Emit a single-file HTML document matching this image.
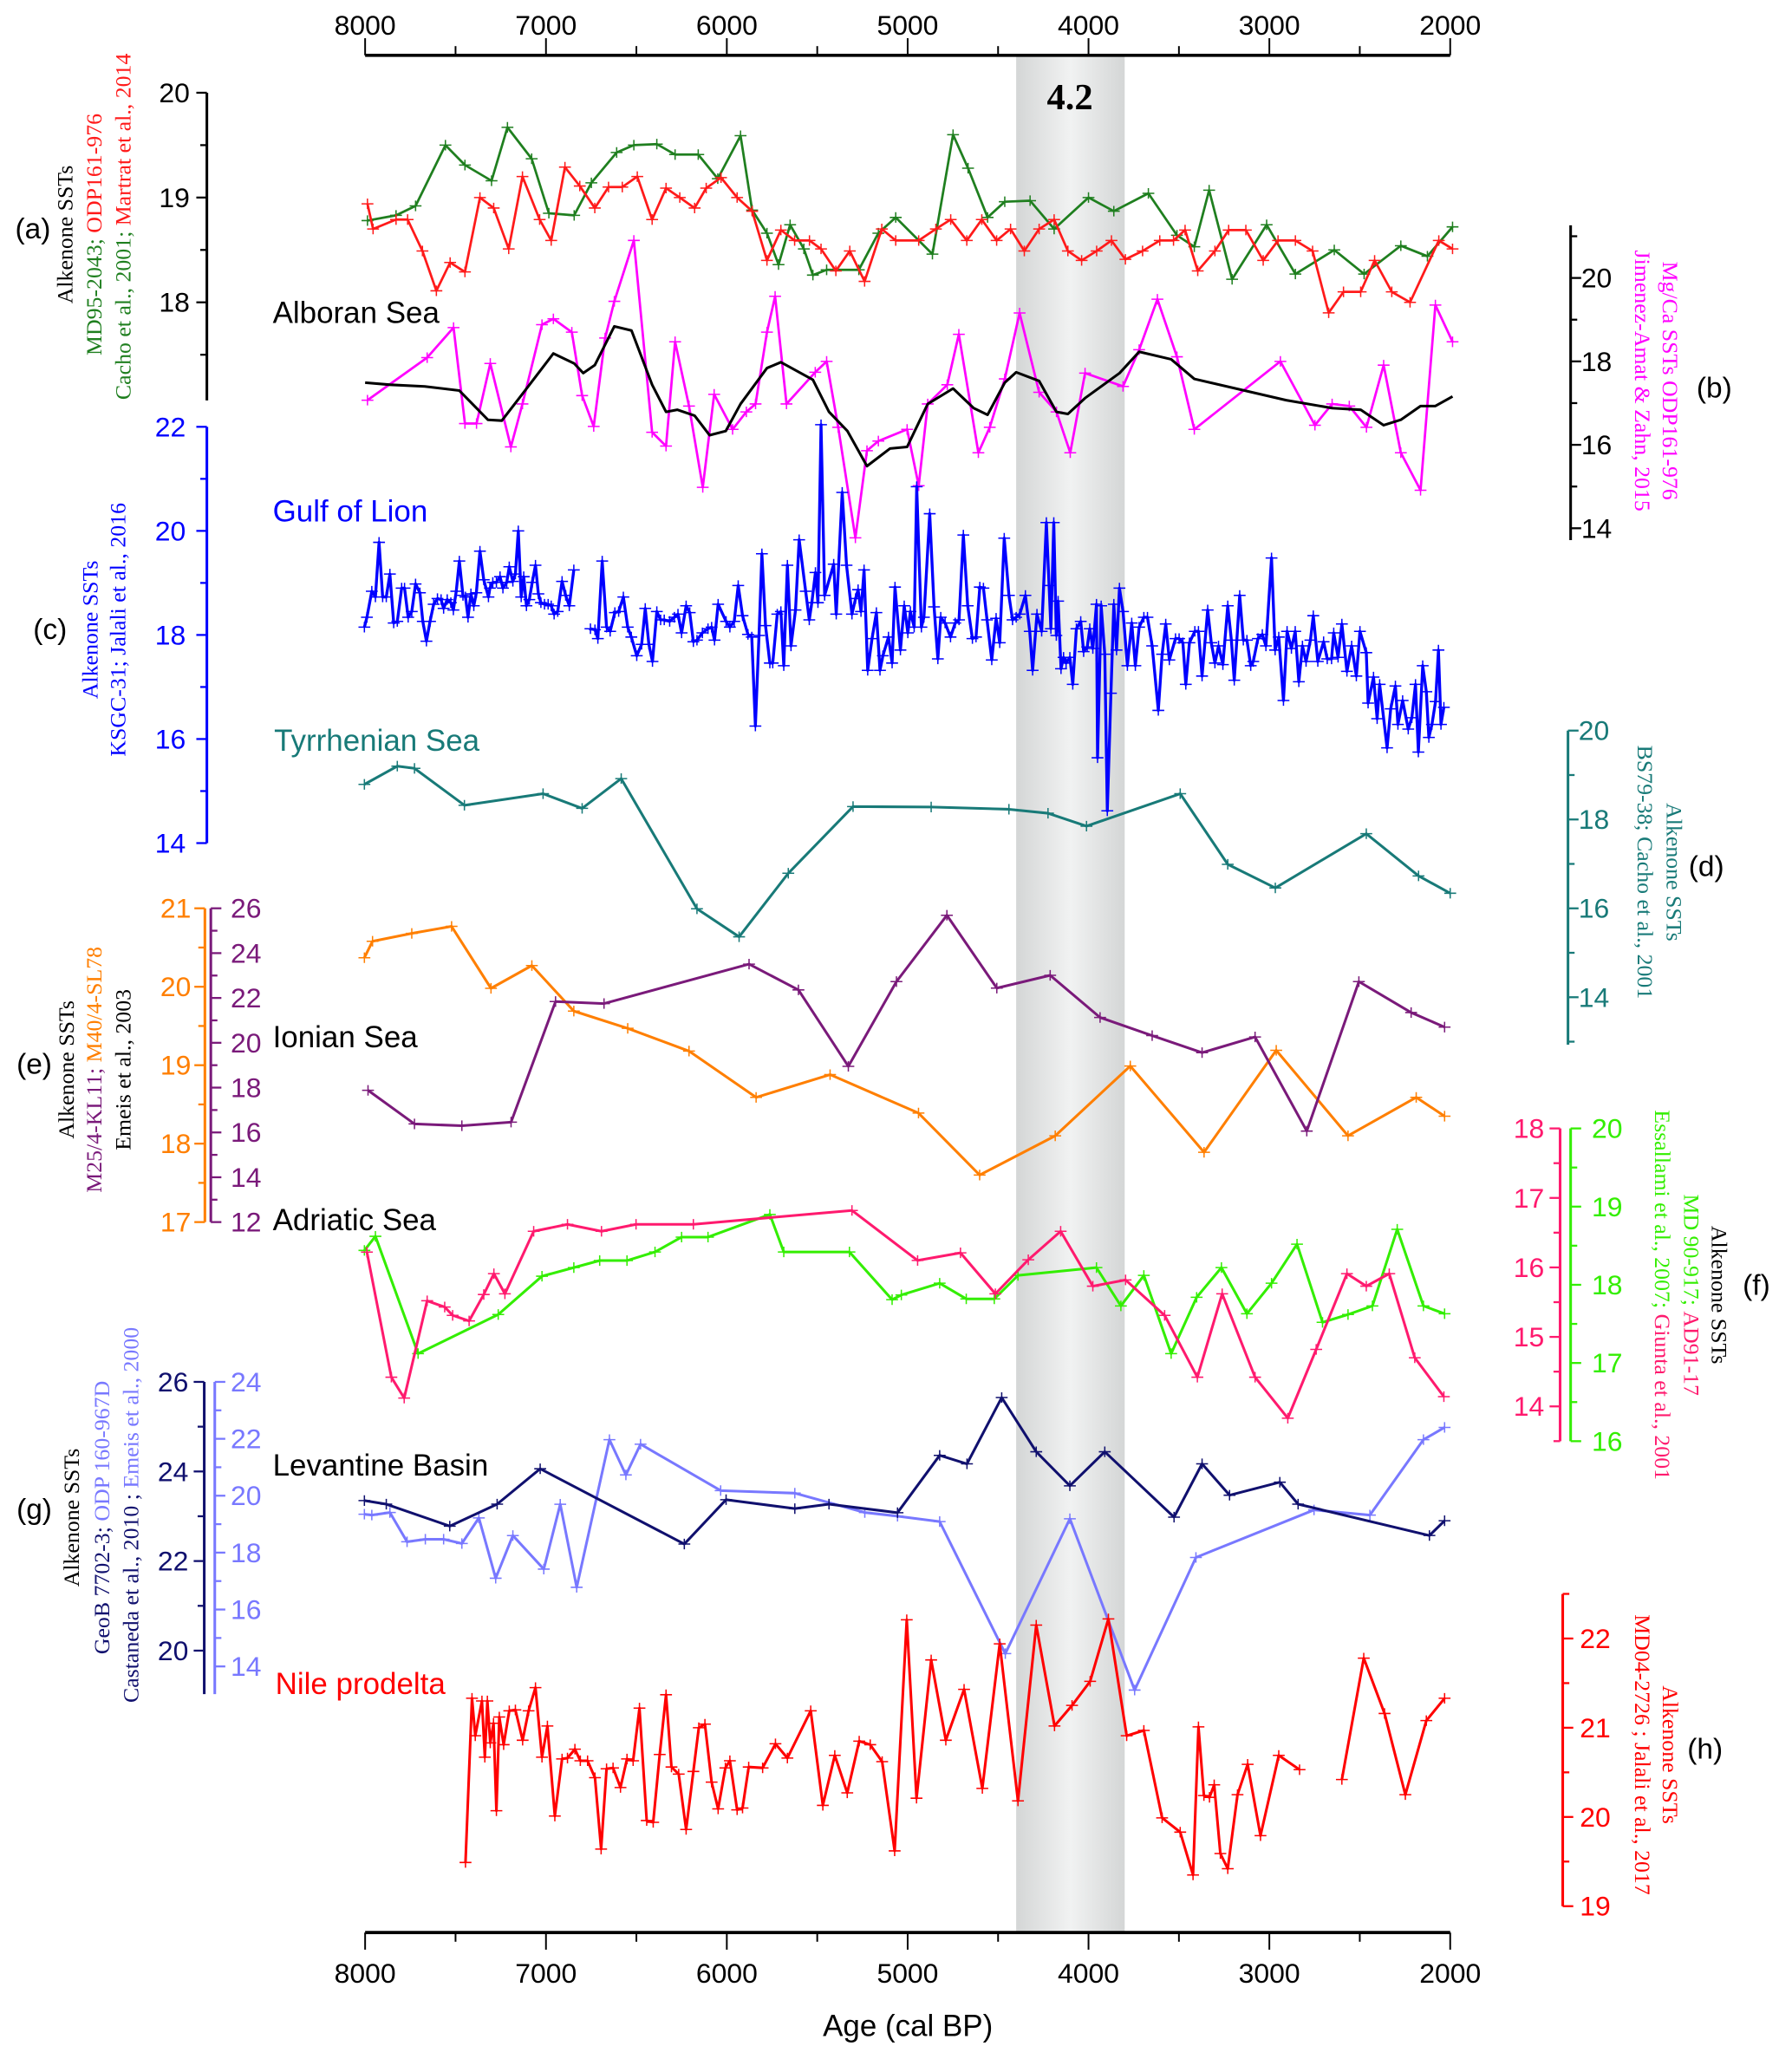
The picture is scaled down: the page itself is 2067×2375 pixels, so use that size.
<!DOCTYPE html>
<html><head><meta charset="utf-8"><title>Mediterranean SST records 8000-2000 cal BP</title>
<style>
html,body{margin:0;padding:0;background:#fff;}
svg{display:block;}
text{font-family:"Liberation Sans",sans-serif;}
.serif{font-family:"Liberation Serif",serif;}
</style></head>
<body>
<svg id="chart" xmlns="http://www.w3.org/2000/svg" width="2067" height="2375" viewBox="0 0 1360 1563" preserveAspectRatio="none">
<defs>
<linearGradient id="bandGrad" x1="0" x2="1" y1="0" y2="0">
<stop offset="0" stop-color="#d4d6d6"/><stop offset="0.5" stop-color="#f1f2f2"/><stop offset="1" stop-color="#d4d6d6"/>
</linearGradient>
</defs>
<g id="bandLayer"></g>
<g id="axisLayer"></g>
<g id="seriesLayer"></g>
<g id="textLayer">
<text x="812" y="83" text-anchor="middle" class="serif" font-weight="bold" font-size="28">4.2</text>
<text x="207" y="245" font-size="23" fill="#000">Alboran Sea</text>
<text x="207" y="396" font-size="23" fill="#0000ff">Gulf of Lion</text>
<text x="208" y="570" font-size="23" fill="#187a78">Tyrrhenian Sea</text>
<text x="207" y="795" font-size="23" fill="#000">Ionian Sea</text>
<text x="207" y="934" font-size="23" fill="#000">Adriatic Sea</text>
<text x="207" y="1120" font-size="23" fill="#000">Levantine Basin</text>
<text x="209" y="1286" font-size="23" fill="#ff0000">Nile prodelta</text>

<text x="25" y="174" font-size="22" text-anchor="middle" dominant-baseline="central">(a)</text>
<text x="1301" y="295" font-size="22" text-anchor="middle" dominant-baseline="central">(b)</text>
<text x="38" y="478" font-size="22" text-anchor="middle" dominant-baseline="central">(c)</text>
<text x="1295" y="658" font-size="22" text-anchor="middle" dominant-baseline="central">(d)</text>
<text x="26" y="808" font-size="22" text-anchor="middle" dominant-baseline="central">(e)</text>
<text x="1333" y="976" font-size="22" text-anchor="middle" dominant-baseline="central">(f)</text>
<text x="26" y="1146" font-size="22" text-anchor="middle" dominant-baseline="central">(g)</text>
<text x="1294" y="1328" font-size="22" text-anchor="middle" dominant-baseline="central">(h)</text>

<g class="serif" font-size="17" text-anchor="middle">
<text class="serif" transform="translate(55,178) rotate(-90)" fill="#000">Alkenone SSTs</text>
<text class="serif" transform="translate(77,178) rotate(-90)"><tspan fill="#1f7f1f">MD95-2043; </tspan><tspan fill="#ff1a1a">ODP161-976</tspan></text>
<text class="serif" transform="translate(99,172) rotate(-90)"><tspan fill="#1f7f1f">Cacho et al., 2001; </tspan><tspan fill="#ff1a1a">Martrat et al., 2014</tspan></text>

<text class="serif" transform="translate(74,478) rotate(-90)" fill="#0000ff">Alkenone SSTs</text>
<text class="serif" transform="translate(95,478) rotate(-90)" fill="#0000ff">KSGC-31; Jalali et al., 2016</text>

<text class="serif" transform="translate(56,812) rotate(-90)" fill="#000">Alkenone SSTs</text>
<text class="serif" transform="translate(77,812) rotate(-90)"><tspan fill="#7a1a7a">M25/4-KL11; </tspan><tspan fill="#ff7f00">M40/4-SL78</tspan></text>
<text class="serif" transform="translate(99,812) rotate(-90)" fill="#000">Emeis et al., 2003</text>

<text class="serif" transform="translate(60,1152) rotate(-90)" fill="#000">Alkenone SSTs</text>
<text class="serif" transform="translate(83,1152) rotate(-90)"><tspan fill="#10106e">GeoB 7702-3; </tspan><tspan fill="#7878ff">ODP 160-967D</tspan></text>
<text class="serif" transform="translate(105,1150) rotate(-90)"><tspan fill="#10106e">Castaneda et al., 2010 ; </tspan><tspan fill="#7878ff">Emeis et al., 2000</tspan></text>

<text class="serif" transform="translate(1262,289) rotate(90)" fill="#ff00ff">Mg/Ca SSTs ODP161-976</text>
<text class="serif" transform="translate(1241,289) rotate(90)" fill="#ff00ff">Jimenez-Amat &amp; Zahn, 2015</text>

<text class="serif" transform="translate(1265,662) rotate(90)" fill="#187a78">Alkenone SSTs</text>
<text class="serif" transform="translate(1243,662) rotate(90)" fill="#187a78">BS79-38; Cacho et al., 2001</text>

<text class="serif" transform="translate(1299,983) rotate(90)" fill="#000">Alkenone SSTs</text>
<text class="serif" transform="translate(1278,983) rotate(90)"><tspan fill="#33ee00">MD 90-917; </tspan><tspan fill="#ff1a6e">AD91-17</tspan></text>
<text class="serif" transform="translate(1256,983) rotate(90)"><tspan fill="#33ee00">Essallami et al., 2007; </tspan><tspan fill="#ff1a6e">Giunta et al., 2001</tspan></text>

<text class="serif" transform="translate(1262,1332) rotate(90)" fill="#ff0000">Alkenone SSTs</text>
<text class="serif" transform="translate(1241,1332) rotate(90)" fill="#ff0000">MD04-2726 ; Jalali et al., 2017</text>
</g>
<text x="689" y="1538" font-size="23" text-anchor="middle" dominant-baseline="central">Age (cal BP)</text>
</g>
</svg>
<script>
// ---------- DATA (age cal BP, SST °C) ----------
const ageTicks = [8000,7000,6000,5000,4000,3000,2000];
const eventBand = [4400,3800];

const alboranGreen = [[7987,18.78],[7829,18.83],[7721,18.92],[7556,19.50],[7448,19.31],[7301,19.16],[7213,19.67],[7079,19.37],[6984,18.85],[6844,18.83],[6749,19.14],[6609,19.43],[6514,19.50],[6387,19.51],[6286,19.41],[6158,19.41],[6050,19.18],[5924,19.59],[5860,18.88],[5778,18.66],[5714,18.36],[5650,18.74],[5574,18.51],[5524,18.26],[5448,18.31],[5270,18.31],[5162,18.66],[5066,18.81],[4863,18.46],[4749,19.60],[4666,19.28],[4558,18.81],[4463,18.96],[4323,18.97],[4190,18.70],[4000,19.00],[3860,18.87],[3669,19.04],[3511,18.64],[3415,18.53],[3333,19.07],[3206,18.22],[3015,18.74],[2856,18.27],[2641,18.50],[2476,18.27],[2273,18.54],[2126,18.44],[1987,18.72]];

const alboranRed = [[7987,18.94],[7956,18.70],[7829,18.79],[7765,18.79],[7683,18.49],[7606,18.11],[7530,18.38],[7448,18.29],[7365,19.00],[7289,18.90],[7206,18.51],[7130,19.20],[7035,18.79],[6971,18.59],[6895,19.29],[6813,19.11],[6730,18.90],[6654,19.10],[6578,19.10],[6495,19.20],[6413,18.79],[6336,19.09],[6260,19.00],[6178,18.90],[6114,19.09],[6032,19.19],[5943,19.00],[5860,18.87],[5778,18.40],[5701,18.69],[5625,18.59],[5543,18.59],[5479,18.51],[5397,18.30],[5320,18.49],[5238,18.20],[5143,18.70],[5066,18.59],[4939,18.59],[4844,18.70],[4762,18.79],[4673,18.59],[4590,18.79],[4508,18.59],[4431,18.70],[4355,18.49],[4273,18.70],[4190,18.79],[4114,18.49],[4038,18.40],[3955,18.49],[3873,18.59],[3796,18.41],[3701,18.49],[3606,18.59],[3530,18.59],[3466,18.69],[3396,18.30],[3301,18.49],[3225,18.69],[3130,18.69],[3034,18.40],[2952,18.59],[2856,18.59],[2761,18.49],[2672,17.90],[2590,18.10],[2495,18.10],[2418,18.40],[2323,18.10],[2222,18.00],[2063,18.59],[1987,18.51]];

const alboranMgCa = [[7987,17.07],[7657,18.09],[7511,18.81],[7448,16.51],[7384,16.51],[7308,17.95],[7194,15.95],[7130,16.98],[7022,18.88],[6959,19.02],[6857,18.70],[6800,17.18],[6736,16.44],[6673,18.56],[6622,19.44],[6514,20.90],[6413,16.30],[6336,15.97],[6286,18.47],[6209,16.93],[6133,14.98],[6070,17.21],[5968,16.37],[5892,16.79],[5841,16.98],[5778,18.70],[5733,19.56],[5670,16.98],[5511,17.74],[5448,18.00],[5384,16.42],[5289,13.77],[5225,15.86],[5162,16.09],[5003,16.37],[4939,15.02],[4889,16.98],[4781,17.44],[4717,18.65],[4609,15.81],[4546,16.42],[4463,17.58],[4381,19.16],[4273,17.26],[4177,16.79],[4101,15.81],[4019,17.72],[3809,17.40],[3720,18.28],[3619,19.49],[3511,18.11],[3415,16.37],[2939,18.00],[2748,16.47],[2653,16.98],[2558,16.93],[2463,16.42],[2368,17.91],[2273,15.81],[2164,14.91],[2082,19.35],[1987,18.47]];

const alboranSmooth = [[8000,17.49],[7860,17.44],[7670,17.40],[7479,17.30],[7321,16.60],[7244,16.58],[7098,17.40],[6959,18.19],[6844,17.95],[6794,17.72],[6730,17.91],[6622,18.84],[6527,18.74],[6413,17.44],[6336,16.79],[6273,16.84],[6178,16.70],[6095,16.23],[6006,16.33],[5924,16.98],[5778,17.84],[5701,17.98],[5524,17.56],[5435,16.79],[5333,16.33],[5225,15.49],[5098,15.91],[5003,15.95],[4889,16.98],[4749,17.35],[4635,16.88],[4558,16.72],[4463,17.49],[4400,17.74],[4273,17.53],[4177,16.79],[4114,16.74],[4019,17.12],[3828,17.72],[3720,18.23],[3543,18.05],[3415,17.58],[2907,17.07],[2653,16.88],[2495,16.84],[2368,16.47],[2273,16.60],[2164,16.93],[2082,16.93],[1987,17.16]];

const gulfOfLion = [[8004,18.15],[7990,18.34],[7963,18.84],[7943,18.73],[7923,19.78],[7903,18.73],[7883,18.73],[7863,19.17],[7842,18.23],[7822,18.26],[7798,18.90],[7782,18.90],[7762,18.34],[7742,18.45],[7721,18.98],[7697,18.81],[7681,18.26],[7661,17.88],[7641,18.26],[7621,18.59],[7600,18.70],[7580,18.68],[7566,18.51],[7546,18.68],[7526,18.62],[7512,18.48],[7496,18.84],[7479,19.42],[7459,18.76],[7445,18.73],[7431,18.34],[7415,18.79],[7399,18.56],[7385,18.81],[7365,19.61],[7344,19.06],[7318,18.73],[7310,18.90],[7294,19.01],[7274,19.01],[7254,19.12],[7238,18.90],[7217,19.01],[7203,19.31],[7183,19.03],[7169,19.17],[7153,20.00],[7137,18.73],[7123,19.12],[7108,18.56],[7092,18.68],[7076,19.01],[7058,19.34],[7042,18.79],[7028,18.62],[7008,18.59],[6988,18.59],[6971,18.56],[6955,18.40],[6935,18.45],[6911,19.03],[6891,18.76],[6871,18.56],[6846,19.25],null,
[6754,18.12],[6729,18.10],[6713,17.93],[6689,19.42],[6665,18.15],[6645,18.07],[6619,18.43],[6598,18.45],[6572,18.73],[6548,18.15],[6528,17.96],[6498,17.60],[6471,17.82],[6451,18.51],[6431,17.82],[6411,17.49],[6387,18.45],[6366,18.29],[6346,18.29],[6316,18.26],[6290,18.34],[6270,18.40],[6250,18.04],[6225,18.56],[6205,18.43],[6185,17.87],[6165,17.90],[6135,18.04],[6104,18.12],[6084,18.15],[6068,17.90],[6048,18.59],[6004,18.26],[5983,18.15],[5959,18.26],[5937,18.95],[5913,18.37],[5883,18.01],[5862,17.96],[5842,16.25],[5822,17.99],[5806,19.56],[5786,18.18],[5762,17.46],[5746,17.46],[5721,18.40],[5701,18.45],[5685,17.41],[5665,19.34],[5645,17.79],[5620,18.48],[5600,19.83],[5564,18.84],[5544,18.29],[5530,18.62],[5510,19.20],[5496,18.62],[5479,22.04],[5459,18.76],[5409,19.36],[5395,18.40],[5362,20.74],[5338,19.34],[5308,18.40],[5288,18.70],[5274,18.87],[5258,18.45],[5241,19.25],[5221,17.32],[5197,17.93],[5173,18.43],[5153,17.32],[5137,17.60],[5106,17.96],[5086,17.46],[5070,18.92],[5040,17.71],
[5019,18.56],[4999,18.04],[4985,18.45],[4964,18.15],[4950,20.85],[4924,18.15],[4910,18.34],[4878,20.33],[4854,18.54],[4833,17.54],[4817,18.34],[4793,18.23],[4763,17.96],[4737,18.23],[4716,18.29],[4692,19.92],[4668,18.56],[4642,17.93],[4622,17.96],[4601,18.92],[4581,18.90],[4561,18.29],[4535,17.52],[4511,18.32],[4491,17.85],[4466,19.86],[4440,18.76],[4420,18.29],[4400,18.34],[4380,18.40],[4349,18.76],[4325,18.07],[4309,17.32],[4285,18.40],[4259,18.07],[4233,20.16],[4218,18.95],[4208,18.12],[4192,20.16],[4178,17.99],[4168,18.65],[4152,17.35],[4138,17.57],[4124,17.46],[4103,17.57],[4087,17.05],[4067,18.12],[4043,18.26],[4027,17.68],[4007,17.77],[3993,18.12],[3976,17.74],[3956,18.59],[3950,15.64],[3930,18.56],[3910,17.63],[3896,14.62],[3876,16.88],[3860,18.59],[3845,17.71],[3829,18.90],[3809,18.45],[3785,17.41],[3761,18.23],[3741,17.41],[3720,18.15],[3694,18.34],[3674,18.34],[3648,17.79],[3614,16.55],[3593,17.63],[3573,18.21],[3553,17.52],[3519,17.93],[3499,17.93],[3478,17.85],[3462,17.05],[3442,17.85],[3412,18.07],[3392,18.07],[3372,17.21],[3341,18.48],[3321,17.85],[3301,17.46],[3281,17.79],[3257,17.43],[3230,18.56],[3210,17.90],[3194,17.13],[3164,18.76],[3144,17.90],[3124,17.90],[3103,17.41],[3089,17.49],[3063,17.93],[3039,18.01],[3019,17.79],[2988,19.48],[2968,17.71],[2948,17.96],[2922,16.74],[2902,18.07],[2878,17.74],[2857,18.07],[2837,17.10],[2817,17.79],[2797,17.49],[2773,17.90],[2757,18.37],[2732,17.49],[2700,17.87],[2680,17.54],[2656,17.54],[2644,18.04],[2620,17.57],[2599,18.21],[2571,17.30],[2545,17.79],[2519,17.21],[2499,18.07],[2464,17.66],[2454,16.69],[2424,17.19],[2404,16.39],[2390,17.05],[2349,15.83],[2329,16.58],[2303,17.02],[2289,16.28],[2263,16.74],[2232,16.19],[2212,16.41],[2192,17.05],[2176,15.75],[2152,17.41],[2132,16.91],[2118,16.03],[2101,16.28],[2081,16.72],[2065,17.71],[2051,16.28],[2035,16.61]];

const tyrrhenian = [[8004,18.79],[7822,19.20],[7727,19.15],[7451,18.32],[7016,18.58],[6800,18.25],[6584,18.92],[6165,15.99],[5932,15.36],[5660,16.79],[5302,18.29],[4870,18.28],[4440,18.23],[4224,18.14],[4011,17.85],[3493,18.58],[3230,16.99],[2967,16.46],[2464,17.68],[2175,16.73],[2000,16.34]];

const ionianOrange = [[8004,20.37],[7959,20.58],[7742,20.68],[7522,20.77],[7304,19.98],[7078,20.27],[6846,19.69],[6548,19.47],[6209,19.18],[5838,18.59],[5429,18.88],[4940,18.39],[4602,17.60],[4184,18.10],[3769,18.99],[3361,17.89],[2962,19.19],[2565,18.10],[2188,18.59],[2031,18.35]];
const ionianPurple = [[7984,17.88],[7727,16.38],[7465,16.30],[7193,16.46],[6947,21.84],[6679,21.75],[5877,23.51],[5604,22.36],[5328,18.95],[5062,22.73],[4783,25.69],[4507,22.44],[4212,23.01],[3936,21.13],[3648,20.32],[3372,19.56],[3079,20.26],[2793,16.06],[2505,22.73],[2216,21.35],[2031,20.70]];

const adriaticPink = [[7990,16.22],[7855,14.42],[7784,14.12],[7657,15.52],[7560,15.43],[7516,15.31],[7425,15.23],[7344,15.61],[7288,15.91],[7227,15.62],[7068,16.52],[6881,16.62],[6693,16.52],[6502,16.62],[6185,16.62],[5308,16.82],[4945,16.10],[4708,16.21],[4515,15.62],[4333,16.11],[4154,16.52],[3976,15.73],[3795,15.82],[3579,15.31],[3398,14.42],[3261,15.62],[3079,14.42],[2898,13.83],[2741,14.82],[2571,15.91],[2464,15.73],[2337,15.91],[2196,14.70],[2035,14.14]];
const adriaticGreen = [[8004,18.44],[7943,18.62],[7707,17.12],[7264,17.62],[7022,18.11],[6846,18.22],[6703,18.31],[6552,18.31],[6397,18.42],[6250,18.61],[6104,18.61],[5762,18.90],[5685,18.42],[5322,18.42],[5086,17.81],[5035,17.87],[4823,18.02],[4676,17.82],[4521,17.82],[4390,18.12],[3956,18.22],[3821,17.73],[3694,18.12],[3543,17.12],[3402,17.84],[3265,18.22],[3124,17.63],[2988,18.02],[2847,18.52],[2706,17.52],[2565,17.62],[2430,17.73],[2293,18.71],[2148,17.73],[2031,17.63]];

const levantineNavy = [[8004,23.35],[7883,23.27],[7532,22.78],[7270,23.27],[7032,24.06],[6235,22.38],[6004,23.37],[5624,23.17],[5435,23.27],[5056,23.08],[4823,24.36],[4672,24.17],[4480,25.65],[4289,24.44],[4103,23.68],[3910,24.44],[3527,22.98],[3372,24.17],[3220,23.47],[2942,23.76],[2841,23.27],[2115,22.57],[2031,22.90]];
const levantineLight = [[8004,19.35],[7963,19.32],[7863,19.41],[7768,18.38],[7667,18.47],[7566,18.47],[7465,18.32],[7371,19.22],[7278,17.10],[7183,18.60],[7012,17.42],[6921,19.70],[6830,16.78],[6649,21.97],[6558,20.73],[6477,21.81],[6034,20.18],[5624,20.09],[5237,19.41],[5056,19.28],[4823,19.09],[4460,14.45],[4103,19.19],[3745,13.17],[3406,17.83],[2753,19.50],[2444,19.32],[2148,21.97],[2031,22.40]];

const nileRed = [[7445,19.49],[7409,21.33],[7391,20.91],[7354,21.30],[7338,20.67],[7324,21.30],[7308,20.83],[7290,21.05],[7274,20.07],[7258,21.12],[7234,20.81],[7203,21.19],[7169,21.20],[7129,20.86],[7096,21.19],[7058,21.45],[7022,20.67],[6992,21.02],[6951,20.01],[6911,20.65],[6881,20.66],[6840,20.76],[6810,20.63],[6770,20.63],[6729,20.44],[6695,19.64],[6665,20.54],[6629,20.55],[6588,20.33],[6552,20.65],[6518,20.63],[6483,21.22],[6443,19.96],[6407,19.94],[6371,20.70],[6336,21.37],[6306,20.56],[6266,20.48],[6225,19.86],[6185,20.51],[6155,21.00],[6121,21.04],[6084,20.39],[6048,20.09],[6008,20.55],[5983,20.63],[5943,20.08],[5913,20.10],[5879,20.56],[5802,20.55],[5731,20.82],[5665,20.66],[5536,21.19],[5469,20.13],[5403,20.69],[5334,20.27],[5268,20.85],[5207,20.81],[5141,20.62],[5072,19.62],[5005,22.21],[4951,20.21],[4870,21.76],[4789,20.86],[4688,21.43],[4587,20.32],[4491,21.94],[4390,20.18],[4289,22.15],[4188,21.02],[4091,21.25],[3991,21.52],[3890,22.22],[3789,20.91],[3694,20.97],[3593,19.99],[3493,19.83],[3422,19.35],[3392,21.01],[3362,20.24],[3331,20.22],[3305,20.36],[3271,19.59],[3230,19.42],[3176,20.25],[3120,20.59],[3049,19.79],[2948,20.69],[2833,20.53],null,[2599,20.42],[2478,21.78],[2363,21.16],[2248,20.25],[2132,21.08],[2031,21.33]];

// ---------- SCALES ----------
const X0 = 277.1, X1 = 1100.6, A0 = 8000, A1 = 2000;
function xAge(a){ return X0 + (A0 - a) * (X1 - X0) / (A0 - A1); }
function linY(v0, y0, v1, y1){ return function(v){ return y0 + (v - v0) * (y1 - y0) / (v1 - v0); }; }

const yA = linY(20, 70.4, 18, 229.5);
const yB = linY(20, 211, 14, 401);
const yC = linY(22, 324, 14, 640);
const yD = linY(20, 554.6, 14, 757);
const yEo = linY(21, 689.5, 17, 927.7);
const yEp = linY(26, 689.5, 12, 927.7);
const yFp = linY(18, 856.6, 14, 1067.6);
const yFg = linY(20, 856.6, 16, 1094);
const yGn = linY(26, 1049, 20, 1253);
const yGl = linY(24, 1049, 14, 1265);
const yH = linY(22, 1243.8, 19, 1447);

const NS = 'http://www.w3.org/2000/svg';
const axisLayer = document.getElementById('axisLayer');
const seriesLayer = document.getElementById('seriesLayer');
const bandLayer = document.getElementById('bandLayer');

function mk(tag, attrs, parent){
  const el = document.createElementNS(NS, tag);
  for (const k in attrs) el.setAttribute(k, attrs[k]);
  parent.appendChild(el);
  return el;
}

const band = mk('rect', {x: xAge(eventBand[0]), y: 42, width: xAge(eventBand[1]) - xAge(eventBand[0]), height: 1467 - 42, fill: 'url(#bandGrad)'}, bandLayer);



function drawTimeAxis(y, dir, labelY, nm){
  const g = mk('g', {}, axisLayer);
  
  
  mk('line', {x1: X0, x2: X1, y1: y, y2: y, stroke: '#000', 'stroke-width': 2.4}, g);
  for (let a = A0; a >= A1; a -= 500){
    const major = (a % 1000 === 0);
    const len = major ? 13 : 7;
    mk('line', {x1: xAge(a), x2: xAge(a), y1: y, y2: y + dir * len, stroke: '#000', 'stroke-width': 1.3}, g);
  }
  ageTicks.forEach(function(a){
    const t = mk('text', {x: xAge(a), y: labelY, 'text-anchor': 'middle', 'dominant-baseline': 'central', 'font-size': 21}, g);
    t.textContent = a;
    
    
  });
}
drawTimeAxis(42, -1, 19, 'top-age-axis');
drawTimeAxis(1467, 1, 1498, 'bottom-age-axis');

function drawValAxis(cfg){
  const g = mk('g', {}, axisLayer);
  
  
  const yf = cfg.y;
  mk('line', {x1: cfg.x, x2: cfg.x, y1: cfg.top, y2: cfg.bottom, stroke: cfg.color, 'stroke-width': 2}, g);
  const n = Math.round((cfg.max - cfg.min) / cfg.minor);
  for (let i = 0; i <= n; i++){
    const v = cfg.min + i * cfg.minor;
    const r = v / cfg.major;
    const isMajor = Math.abs(r - Math.round(r)) < 1e-6;
    const len = isMajor ? 8 : 5;
    mk('line', {x1: cfg.x, x2: cfg.x + cfg.dir * len, y1: yf(v), y2: yf(v), stroke: cfg.color, 'stroke-width': 1.5}, g);
    if (isMajor){
      const t = mk('text', {x: cfg.lx, y: yf(v), 'text-anchor': cfg.anchor, 'dominant-baseline': 'central', 'font-size': 21, fill: cfg.color}, g);
      t.textContent = Math.round(v);
      
      
    }
  }
}
drawValAxis({name:'axis-a', x:157, y:yA, min:17.5, max:20, major:1, minor:0.5, top:70.4, bottom:304, dir:-1, color:'#000', lx:144, anchor:'end'});
drawValAxis({name:'axis-b', x:1192, y:yB, min:14, max:21, major:2, minor:1, top:171, bottom:410, dir:1, color:'#000', lx:1200, anchor:'start'});
drawValAxis({name:'axis-c', x:157, y:yC, min:14, max:22, major:2, minor:1, top:324, bottom:640, dir:-1, color:'#0000ff', lx:141, anchor:'end'});
drawValAxis({name:'axis-d', x:1190, y:yD, min:13, max:20, major:2, minor:1, top:554.6, bottom:793, dir:1, color:'#187a78', lx:1198, anchor:'start'});
drawValAxis({name:'axis-e-orange', x:155.5, y:yEo, min:17, max:21, major:1, minor:0.5, top:689.5, bottom:927.7, dir:-1, color:'#ff7f00', lx:145, anchor:'end'});
drawValAxis({name:'axis-e-purple', x:160, y:yEp, min:12, max:26, major:2, minor:1, top:689.5, bottom:927.7, dir:1, color:'#7a1a7a', lx:175, anchor:'start'});
drawValAxis({name:'axis-f-pink', x:1184, y:yFp, min:13.5, max:18, major:1, minor:0.5, top:856.6, bottom:1094, dir:-1, color:'#ff1a6e', lx:1172, anchor:'end'});
drawValAxis({name:'axis-f-green', x:1192, y:yFg, min:16, max:20, major:1, minor:0.5, top:856.6, bottom:1094, dir:1, color:'#33ee00', lx:1208, anchor:'start'});
drawValAxis({name:'axis-g-navy', x:155, y:yGn, min:20, max:26, major:2, minor:1, top:1049, bottom:1286, dir:-1, color:'#10106e', lx:143, anchor:'end'});
drawValAxis({name:'axis-g-light', x:163, y:yGl, min:14, max:24, major:2, minor:1, top:1049, bottom:1286, dir:1, color:'#7878ff', lx:175, anchor:'start'});
drawValAxis({name:'axis-h', x:1186, y:yH, min:19, max:22.5, major:1, minor:0.5, top:1210, bottom:1447, dir:1, color:'#ff0000', lx:1199, anchor:'start'});

function drawSeries(nm, data, yf, color, width, markers){
  const g = mk('g', {}, seriesLayer);
  
  
  let d = '', pen = false;
  data.forEach(function(p){
    if (p === null){ pen = false; return; }
    d += (pen ? 'L' : 'M') + xAge(p[0]).toFixed(2) + ' ' + yf(p[1]).toFixed(2) + ' ';
    pen = true;
  });
  const path = mk('path', {d: d, fill: 'none', stroke: color, 'stroke-width': width, 'stroke-linejoin': 'round'}, g);
  
  
  if (markers){
    let md = '';
    data.forEach(function(p){
      if (p === null) return;
      const x = xAge(p[0]), y = yf(p[1]);
      md += 'M' + (x - 4.5).toFixed(2) + ' ' + y.toFixed(2) + 'h9M' + x.toFixed(2) + ' ' + (y - 4).toFixed(2) + 'v8';
    });
    const m = mk('path', {d: md, fill: 'none', stroke: color, 'stroke-width': 1}, g);
    
    
  }
}
drawSeries('alboran-md95-2043', alboranGreen, yA, '#1f7f1f', 1.8, true);
drawSeries('alboran-odp161-976-alkenone', alboranRed, yA, '#ff1a1a', 1.8, true);
drawSeries('alboran-mgca', alboranMgCa, yB, '#ff00ff', 1.8, true);
drawSeries('alboran-mgca-smooth', alboranSmooth, yB, '#000000', 2, false);
drawSeries('gulf-of-lion-ksgc31', gulfOfLion, yC, '#0000ff', 2.2, true);
drawSeries('tyrrhenian-bs79-38', tyrrhenian, yD, '#187a78', 2, true);
drawSeries('ionian-m40-sl78', ionianOrange, yEo, '#ff7f00', 2, true);
drawSeries('ionian-m25-kl11', ionianPurple, yEp, '#7a1a7a', 2, true);
drawSeries('adriatic-md90-917', adriaticGreen, yFg, '#33ee00', 2, true);
drawSeries('adriatic-ad91-17', adriaticPink, yFp, '#ff1a6e', 2, true);
drawSeries('levantine-odp160-967d', levantineLight, yGl, '#7878ff', 2, true);
drawSeries('levantine-geob7702-3', levantineNavy, yGn, '#10106e', 2, true);
drawSeries('nile-md04-2726', nileRed, yH, '#ff0000', 2, true);
</script>
</body></html>
